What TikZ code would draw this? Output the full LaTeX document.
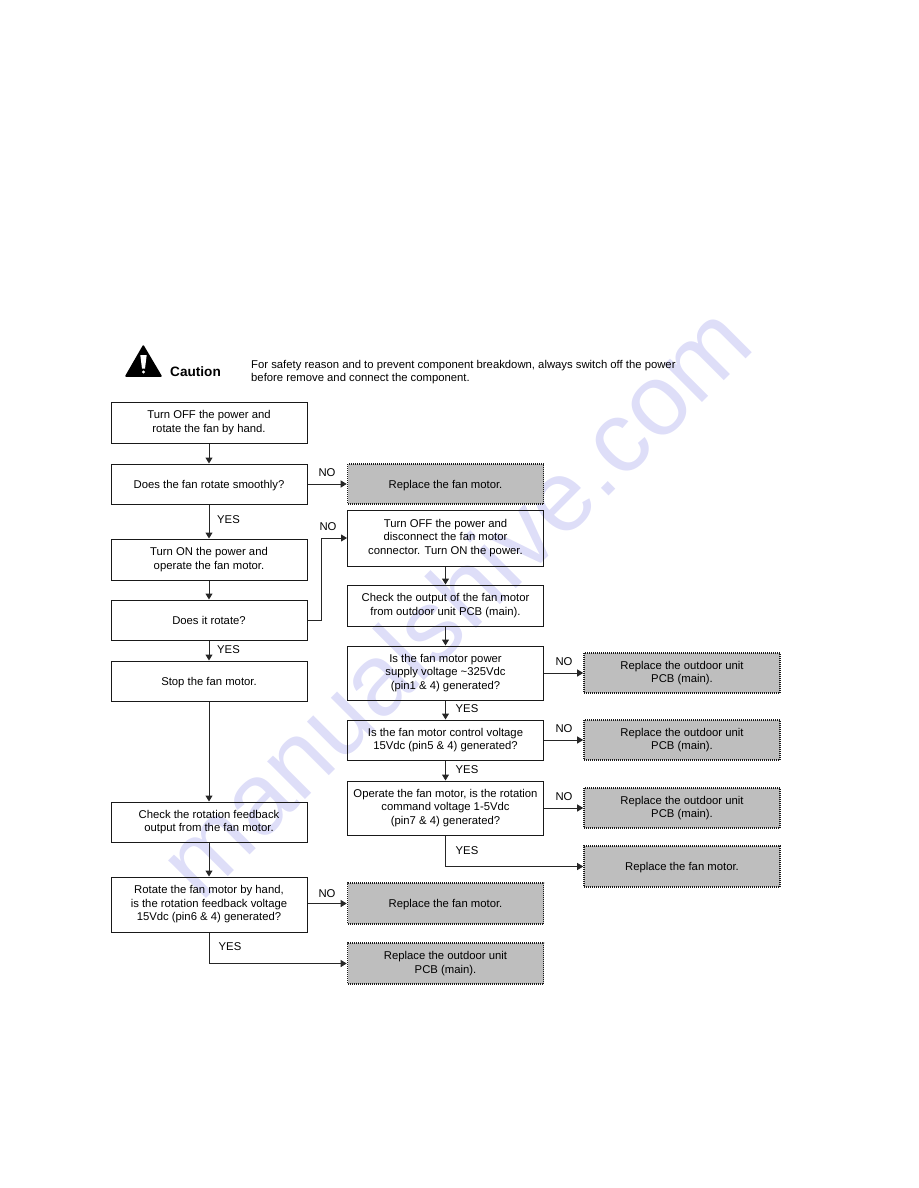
\documentclass[tikz,border=0pt]{standalone}
\usepackage{fontspec}
\setmainfont{Liberation Sans}
\usetikzlibrary{arrows.meta}
\definecolor{boxgray}{RGB}{190,190,190}
\definecolor{markblue}{RGB}{222,222,248}
\tikzset{
  flow/.style={-{Triangle[length=6pt,width=7pt]},line width=1pt,draw=black!85},
  stepbox/.style={draw=black!90,line width=1pt,align=center,minimum width=196pt,font=\fontsize{11.3}{13.5}\selectfont,inner sep=0pt},
  endbox/.style={stepbox,fill=boxgray,densely dotted,line width=1.6pt},
  oneline/.style={text height=8pt,text depth=0pt},
  lab/.style={font=\fontsize{11.3}{13.5}\selectfont,inner sep=0pt}
}
\begin{document}
\begin{tikzpicture}[x=1pt,y=-1pt]
    \useasboundingbox (0,0) rectangle (918,1188);
    \node (mark) at (454,600) [rotate=45,text=markblue,font=\fontsize{101}{101}\selectfont,inner sep=0pt] {manualshive.com};
    % left column
    \node (off) at (209,422.5) [stepbox,minimum height=41pt] {Turn OFF the power and\\rotate the fan by hand.};
    \node (smooth) at (209,484) [stepbox,oneline,minimum height=40pt] {Does the fan rotate smoothly?};
    \node (on) at (209,559.5) [stepbox,minimum height=41pt] {Turn ON the power and\\operate the fan motor.};
    \node (rotate) at (209,620) [stepbox,oneline,minimum height=40pt] {Does it rotate?};
    \node (stop) at (209,681) [stepbox,oneline,minimum height=40pt] {Stop the fan motor.};
    \node (check) at (209,822) [stepbox,minimum height=40pt] {Check the rotation feedback\\output from the fan motor.};
    \node (hand) at (209,904.5) [stepbox,minimum height=55pt] {Rotate the fan motor by hand,\\is the rotation feedback voltage\\15Vdc (pin6 \& 4) generated?};
    % middle column
    \node (repa) at (445.5,484) [endbox,oneline,minimum height=40pt] {Replace the fan motor.};
    \node (disc) at (445.5,538) [stepbox,minimum height=56pt] {Turn OFF the power and\\disconnect the fan motor\\connector. Turn ON the power.};
    \node (output) at (445.5,605.5) [stepbox,minimum height=41pt] {Check the output of the fan motor\\from outdoor unit PCB (main).};
    \node (supply) at (445.5,673) [stepbox,minimum height=54pt] {Is the fan motor power\\supply voltage \textasciitilde325Vdc\\(pin1 \& 4) generated?};
    \node (control) at (445.5,740) [stepbox,minimum height=40pt] {Is the fan motor control voltage\\15Vdc (pin5 \& 4) generated?};
    \node (command) at (445.5,808) [stepbox,minimum height=54pt] {Operate the fan motor, is the rotation\\command voltage 1-5Vdc\\(pin7 \& 4) generated?};
    \node (repb) at (445.5,903.5) [endbox,oneline,minimum height=41pt] {Replace the fan motor.};
    \node (pcbd) at (445.5,963.5) [endbox,minimum height=41pt] {Replace the outdoor unit\\PCB (main).};
    % right column
    \node (pcba) at (682,673) [endbox,minimum height=40pt] {Replace the outdoor unit\\PCB (main).};
    \node (pcbb) at (682,740) [endbox,minimum height=40pt] {Replace the outdoor unit\\PCB (main).};
    \node (pcbc) at (682,808) [endbox,minimum height=40pt] {Replace the outdoor unit\\PCB (main).};
    \node (repc) at (682,866.5) [endbox,oneline,minimum height=41pt] {Replace the fan motor.};
    % caution note
    \coordinate (tipa) at (143.3,346);
    \coordinate (tipb) at (126,376);
    \coordinate (tipc) at (161,376);
    \fill[black,line join=round,line width=1.5pt,draw=black] (tipa) -- (tipb) -- (tipc) -- cycle;
    \fill[white] (140.3,355) -- (146.7,355) -- (145,368.5) -- (142,368.5) -- cycle;
    \fill[white] (143.5,372) circle (1.7pt);
    \node (caution) at (195.5,371.5) [lab,font=\bfseries\fontsize{13.6}{15}\selectfont] {Caution};
    \node (safety) at (251,372) [lab,anchor=west,align=left] {For safety reason and to prevent component breakdown, always switch off the power\\before remove and connect the component.};
    % connectors
    \draw[flow] (off) -- (smooth);
    \draw[flow] (smooth) -- (on);
    \draw[flow] (on) -- (rotate);
    \draw[flow] (rotate) -- (stop);
    \draw[flow] (stop) -- (check);
    \draw[flow] (check) -- (hand);
    \draw[flow] (smooth) -- (repa);
    \draw[flow] (hand.east |- repb.west) -- (repb.west);
    \draw[flow] (hand.south) |- (pcbd.west);
    \draw[flow] (rotate.east) -- ++(14,0) |- (disc.west);
    \draw[flow] (disc) -- (output);
    \draw[flow] (output) -- (supply);
    \draw[flow] (supply) -- (control);
    \draw[flow] (control) -- (command);
    \draw[flow] (supply) -- (pcba);
    \draw[flow] (control) -- (pcbb);
    \draw[flow] (command) -- (pcbc);
    \draw[flow] (command.south) |- (repc.west);
    % branch labels
    \node (noa) at (327,473) [lab] {NO};
    \node (yesa) at (228.5,520) [lab] {YES};
    \node (nob) at (328,527) [lab] {NO};
    \node (yesb) at (228.5,650) [lab] {YES};
    \node (noc) at (564,662) [lab] {NO};
    \node (yesc) at (467,709) [lab] {YES};
    \node (nod) at (564,729) [lab] {NO};
    \node (yesd) at (467,770) [lab] {YES};
    \node (noe) at (564,797) [lab] {NO};
    \node (yese) at (467,850.5) [lab] {YES};
    \node (nof) at (327,893.5) [lab] {NO};
    \node (yesf) at (230,947) [lab] {YES};
\end{tikzpicture}
\end{document}
